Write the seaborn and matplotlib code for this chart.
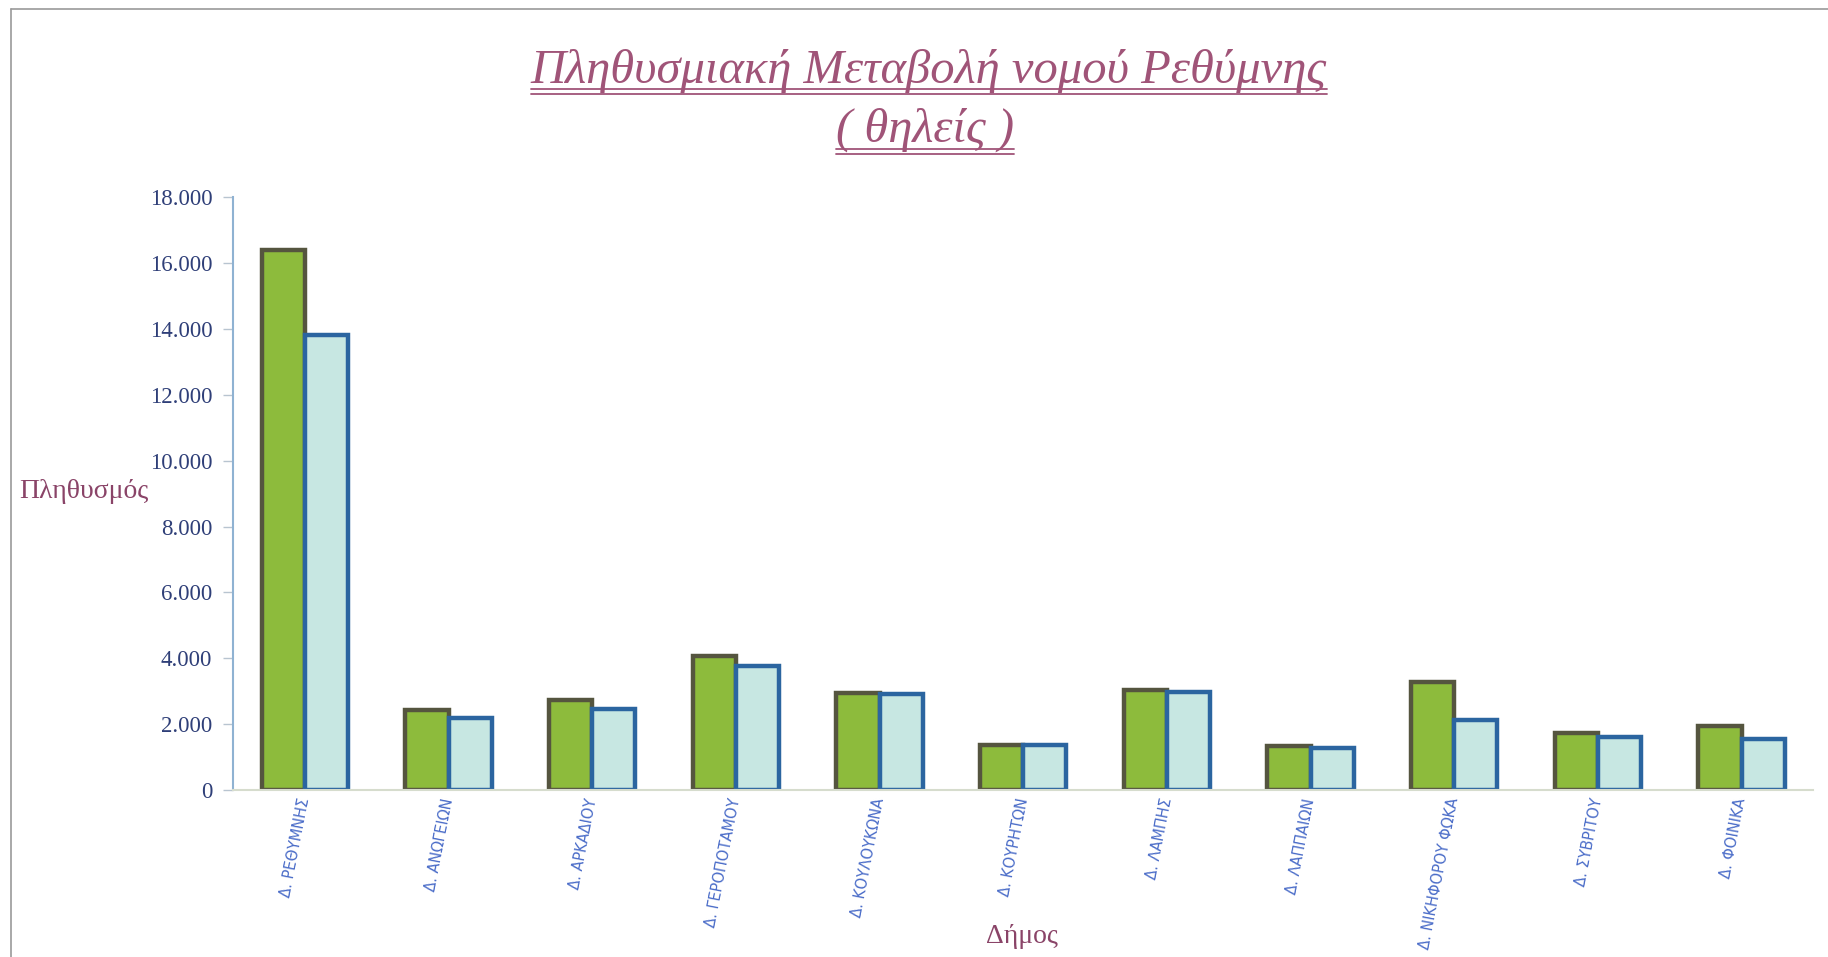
import pandas as pd
import matplotlib
matplotlib.use("Agg")
import matplotlib.pyplot as plt
from matplotlib.lines import Line2D
from matplotlib.ticker import FuncFormatter
import seaborn as sns

municipalities = ["Δ. ΡΕΘΥΜΝΗΣ", "Δ. ΑΝΩΓΕΙΩΝ", "Δ. ΑΡΚΑΔΙΟΥ", "Δ. ΓΕΡΟΠΟΤΑΜΟΥ",
                  "Δ. ΚΟΥΛΟΥΚΩΝΑ", "Δ. ΚΟΥΡΗΤΩΝ", "Δ. ΛΑΜΠΗΣ", "Δ. ΛΑΠΠΑΙΩΝ",
                  "Δ. ΝΙΚΗΦΟΡΟΥ ΦΩΚΑ", "Δ. ΣΥΒΡΙΤΟΥ", "Δ. ΦΟΙΝΙΚΑ"]
years = ["1991", "2001"]
female_1991 = [16400, 2430, 2720, 4060, 2930, 1380, 3040, 1340, 3290, 1730, 1940]
female_2001 = [13800, 2190, 2470, 3780, 2900, 1370, 2970, 1270, 2120, 1620, 1550]

df = pd.DataFrame({
    "Δήμος": municipalities * 2,
    "Πληθυσμός": female_1991 + female_2001,
    "Έτος": [years[0]] * len(municipalities) + [years[1]] * len(municipalities),
})

sns.set_style("white")
fills = ["#8dbb3c", "#c7e7e2"]
edges = ["#55553f", "#2b65a0"]

fig = plt.figure(figsize=(18.28, 9.57), dpi=100)
ax = fig.add_axes([0.1275, 0.1745, 0.8645, 0.6195])

sns.barplot(data=df, x="Δήμος", y="Πληθυσμός", hue="Έτος", order=municipalities,
            hue_order=years, palette=fills, saturation=1, width=0.6, gap=0,
            legend=False, ax=ax)

for cont, ec in zip(ax.containers, edges):
    for bar in cont:
        bar.set_edgecolor(ec)
        bar.set_linewidth(3.2)

ax.set_ylim(0, 18000)
ax.set_xlim(-0.5, len(municipalities) - 0.5)
ax.set_yticks(range(0, 18001, 2000))
ax.yaxis.set_major_formatter(FuncFormatter(lambda v, p: f"{int(v):,}".replace(",", ".")))

serif = ["Liberation Serif", "DejaVu Serif"]
for lbl in ax.get_yticklabels():
    lbl.set_family(serif)
    lbl.set_fontsize(16.5)
    lbl.set_color("#2f3f78")
ax.tick_params(axis="y", length=7, width=1, color="#b8c4d0", pad=8, left=True)
ax.tick_params(axis="x", length=0, pad=6)

ax.set_xticks(range(len(municipalities)))
ax.set_xticklabels(municipalities, rotation=79, rotation_mode="anchor",
                   ha="right", va="center", fontsize=10.5, color="#4a6cc8")

for side in ["top", "right"]:
    ax.spines[side].set_visible(False)
ax.spines["left"].set_color("#8fb2d2")
ax.spines["left"].set_linewidth(1.5)
ax.spines["bottom"].set_color("#d6dccd")
ax.spines["bottom"].set_linewidth(1.5)

ax.set_xlabel("")
ax.set_ylabel("")
fig.text(0.046, 0.486, "Πληθυσμός", ha="center", va="center", family=serif,
         fontsize=20, color="#8a4468")
fig.text(0.559, 0.021, "Δήμος", ha="center", va="center", family=serif,
         fontsize=20, color="#8a4468")

title_color = "#a05478"
t1 = fig.text(0.508, 0.926, "Πληθυσμιακή Μεταβολή νομού Ρεθύμνης", ha="center",
              va="center", family=serif, style="italic", fontsize=35, color=title_color)
t2 = fig.text(0.506, 0.864, "( θηλείς )", ha="center", va="center", family=serif,
              style="italic", fontsize=35, color=title_color)

# double underline under the title lines
fig.canvas.draw()
renderer = fig.canvas.get_renderer()
inv = fig.transFigure.inverted()
for t in (t1, t2):
    bb = t.get_window_extent(renderer)
    (x0, y0), (x1, y1) = inv.transform([(bb.x0, bb.y0), (bb.x1, bb.y1)])
    for off in (0.004, -0.0015):
        fig.add_artist(Line2D([x0, x1], [y0 + off, y0 + off], color=title_color,
                              linewidth=1.3, transform=fig.transFigure))

# scanned frame edges
fig.add_artist(Line2D([0.006, 1.0], [0.991, 0.991], color="#9a9a9a", linewidth=1.2,
                      transform=fig.transFigure))
fig.add_artist(Line2D([0.006, 0.006], [0.0, 0.991], color="#9a9a9a", linewidth=1.2,
                      transform=fig.transFigure))

fig.savefig("out.png", dpi=100, facecolor="white")
